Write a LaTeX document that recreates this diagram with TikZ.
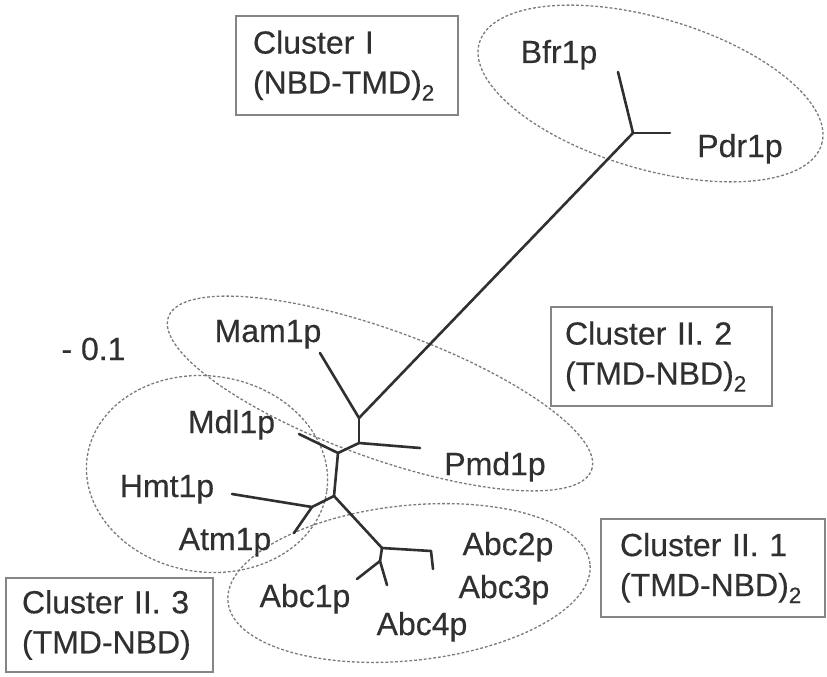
\documentclass[tikz,border=0pt]{standalone}
\usepackage{fontspec}
\setmainfont{Liberation Sans}[FakeBold=0.35]
\usetikzlibrary{shapes.geometric}
\definecolor{ink}{HTML}{303030}
\definecolor{ellgray}{HTML}{7A7A7A}
\definecolor{boxgray}{HTML}{858585}
\begin{document}
\begin{tikzpicture}[x=1pt,y=-1pt,
  branch/.style={draw=ink, line width=2.6pt, line cap=round, line join=round},
  cluster/.style={ellipse, draw=ellgray, line width=1.3pt, dash pattern=on 2.8pt off 2pt, inner sep=0pt},
  leaf/.style={anchor=base, inner sep=0pt, text=ink, font=\fontsize{32}{38}\selectfont},
  clusterbox/.style={draw=boxgray, line width=2.4pt, align=left, text=ink, inner ysep=0pt, font=\fontsize{32}{40}\selectfont}
]
\useasboundingbox (0,0) rectangle (827,677);

% cluster ellipses
\node[cluster, minimum width=357pt, minimum height=151pt, rotate=-16.5] (ellI) at (650.5,93.5) {};
\node[cluster, minimum width=450pt, minimum height=128pt, rotate=-19.9] (ellIItwo) at (380,393.5) {};
\node[cluster, minimum width=242pt, minimum height=196pt, rotate=-8] (ellIIthree) at (207,474) {};
\node[cluster, minimum width=364pt, minimum height=155pt, rotate=6] (ellIIone) at (409,583) {};

% tree points
\coordinate (bp) at (633,133);
\coordinate (tBfr) at (618,72);
\coordinate (tPdr) at (670,133);
\coordinate (nA) at (359,418);
\coordinate (tMam) at (320,353);
\coordinate (nB) at (359,443);
\coordinate (tPmd) at (420,448);
\coordinate (nC) at (338,453);
\coordinate (tMdl) at (299,434);
\coordinate (nD) at (334,496);
\coordinate (nE) at (312,507);
\coordinate (tHmt) at (232,494);
\coordinate (tAtm) at (294,533);
\coordinate (nF) at (382,548);
\coordinate (nG) at (431,551);
\coordinate (tAbcIII) at (433,569);
\coordinate (nH) at (380,561);
\coordinate (tAbcI) at (357,579);
\coordinate (tAbcIV) at (387,585);

% branches
\draw[branch] (bp) -- (tBfr);
\draw[branch] (bp) -- (tPdr);
\draw[branch] (bp) -- (nA);
\draw[branch] (nA) -- (tMam);
\draw[branch] (nA) -- (nB);
\draw[branch] (nB) -- (tPmd);
\draw[branch] (nB) -- (nC);
\draw[branch] (nC) -- (tMdl);
\draw[branch] (nC) -- (nD);
\draw[branch] (nD) -- (nE);
\draw[branch] (nE) -- (tHmt);
\draw[branch] (nE) -- (tAtm);
\draw[branch] (nD) -- (nF);
\draw[branch] (nF) -- (nG);
\draw[branch] (nG) -- (tAbcIII);
\draw[branch] (nF) -- (nH);
\draw[branch] (nH) -- (tAbcI);
\draw[branch] (nH) -- (tAbcIV);

% leaf labels
\node[leaf] (lBfr) at (559,63) {Bfr1p};
\node[leaf] (lPdr) at (740,157) {Pdr1p};
\node[leaf] (lMam) at (268,342) {Mam1p};
\node[leaf] (lMdl) at (231.5,433) {Mdl1p};
\node[leaf] (lPmd) at (495,475) {Pmd1p};
\node[leaf] (lHmt) at (167,497) {Hmt1p};
\node[leaf] (lAtm) at (225,550) {Atm1p};
\node[leaf] (lAbcI) at (305,607) {Abc1p};
\node[leaf] (lAbcIV) at (422,635) {Abc4p};
\node[leaf] (lAbcII) at (508,555) {Abc2p};
\node[leaf] (lAbcIII) at (504,598) {Abc3p};
\node[leaf] (scale) at (93.5,360) {- 0.1};

% cluster boxes
\node[clusterbox, inner xsep=17pt, text width=188pt, minimum height=99pt] (boxI) at (347,65.5) {Cluster I\\(NBD-TMD)\textsubscript{2}};
\node[clusterbox, inner xsep=14pt, text width=193pt, minimum height=99pt] (boxIItwo) at (661.5,356.5) {Cluster II. 2\\(TMD-NBD)\textsubscript{2}};
\node[clusterbox, inner xsep=19pt, text width=186pt, minimum height=98pt] (boxIIone) at (713,568) {Cluster II. 1\\(TMD-NBD)\textsubscript{2}};
\node[clusterbox, inner xsep=16pt, text width=175pt, minimum height=94pt] (boxIIthree) at (109.5,625) {Cluster II. 3\\(TMD-NBD)};
\end{tikzpicture}
\end{document}
